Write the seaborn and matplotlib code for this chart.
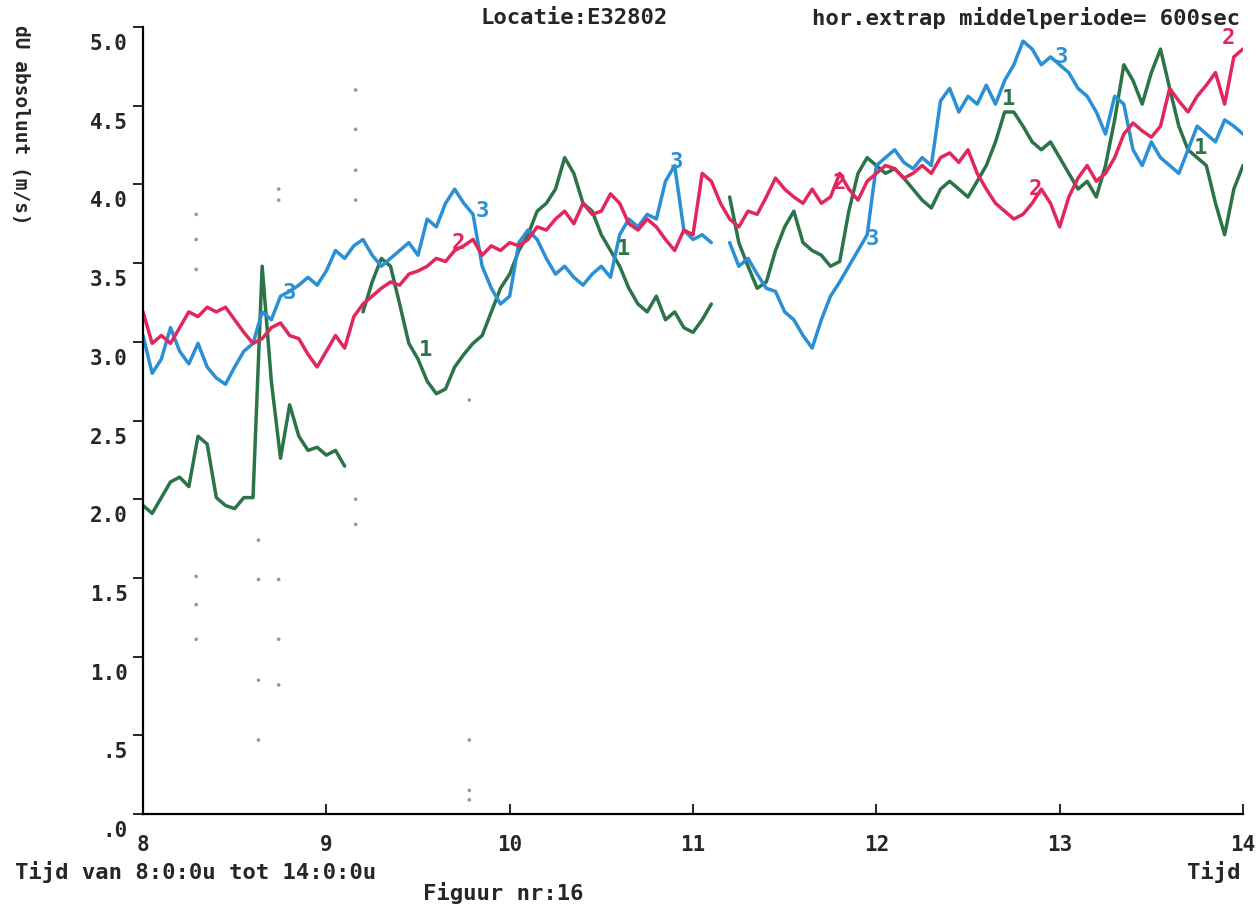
import numpy as np
import pandas as pd
import matplotlib
matplotlib.use("Agg")
import matplotlib.pyplot as plt
import seaborn as sns
from matplotlib.transforms import ScaledTranslation

# ---------------- data ----------------
TIMES = np.round(np.arange(8.0, 14.0001, 0.05), 2)

SERIE_1 = [1.96, 1.91, 2.01, 2.11, 2.14, 2.08, 2.40, 2.35, 2.01, 1.96,
           1.94, 2.01, 2.01, 3.48, 2.75, 2.26, 2.60, 2.40, 2.31, 2.33,
           2.28, 2.31, 2.21, np.nan, 3.19, 3.38, 3.53, 3.48, 3.24, 2.99,
           2.89, 2.75, 2.67, 2.70, 2.84, 2.92, 2.99, 3.04, 3.19, 3.34,
           3.43, 3.58, 3.68, 3.83, 3.88, 3.97, 4.17, 4.07, 3.88, 3.83,
           3.68, 3.58, 3.48, 3.34, 3.24, 3.19, 3.29, 3.14, 3.19, 3.09,
           3.06, 3.14, 3.24, np.nan, 3.92, 3.63, 3.48, 3.34, 3.38, 3.58,
           3.73, 3.83, 3.63, 3.58, 3.55, 3.48, 3.51, 3.83, 4.07, 4.17,
           4.12, 4.07, 4.10, 4.04, 3.97, 3.90, 3.85, 3.97, 4.02, 3.97,
           3.92, 4.02, 4.12, 4.27, 4.46, 4.46, 4.37, 4.27, 4.22, 4.27,
           4.17, 4.07, 3.97, 4.02, 3.92, 4.12, 4.41, 4.76, 4.66, 4.51,
           4.71, 4.86, 4.61, 4.37, 4.22, 4.17, 4.12, 3.88, 3.68, 3.97,
           4.12]

SERIE_2 = [3.19, 2.99, 3.04, 2.99, 3.09, 3.19, 3.16, 3.22, 3.19, 3.22,
           3.14, 3.06, 2.99, 3.02, 3.09, 3.12, 3.04, 3.02, 2.92, 2.84,
           2.94, 3.04, 2.96, 3.16, 3.24, 3.29, 3.34, 3.38, 3.36, 3.43,
           3.45, 3.48, 3.53, 3.51, 3.58, 3.61, 3.65, 3.55, 3.61, 3.58,
           3.63, 3.61, 3.65, 3.73, 3.71, 3.78, 3.83, 3.75, 3.88, 3.81,
           3.83, 3.94, 3.88, 3.75, 3.71, 3.78, 3.73, 3.65, 3.58, 3.71,
           3.68, 4.07, 4.02, 3.88, 3.78, 3.73, 3.83, 3.81, 3.92, 4.04,
           3.97, 3.92, 3.88, 3.97, 3.88, 3.92, 4.07, 3.97, 3.90, 4.02,
           4.07, 4.12, 4.10, 4.04, 4.07, 4.12, 4.07, 4.17, 4.20, 4.14,
           4.22, 4.07, 3.97, 3.88, 3.83, 3.78, 3.81, 3.88, 3.97, 3.88,
           3.73, 3.92, 4.04, 4.12, 4.02, 4.07, 4.17, 4.32, 4.39, 4.34,
           4.30, 4.37, 4.61, 4.53, 4.46, 4.56, 4.63, 4.71, 4.51, 4.81,
           4.86]

SERIE_3 = [3.04, 2.80, 2.89, 3.09, 2.94, 2.86, 2.99, 2.84, 2.77, 2.73,
           2.84, 2.94, 2.99, 3.19, 3.14, 3.29, 3.32, 3.36, 3.41, 3.36,
           3.45, 3.58, 3.53, 3.61, 3.65, 3.55, 3.48, 3.53, 3.58, 3.63,
           3.55, 3.78, 3.73, 3.88, 3.97, 3.88, 3.81, 3.48, 3.34, 3.24,
           3.29, 3.63, 3.71, 3.65, 3.53, 3.43, 3.48, 3.41, 3.36, 3.43,
           3.48, 3.41, 3.68, 3.78, 3.73, 3.81, 3.78, 4.02, 4.12, 3.71,
           3.65, 3.68, 3.63, np.nan, 3.63, 3.48, 3.53, 3.43, 3.34, 3.32,
           3.19, 3.14, 3.04, 2.96, 3.14, 3.29, 3.38, 3.48, 3.58, 3.68,
           4.12, 4.17, 4.22, 4.14, 4.10, 4.17, 4.12, 4.53, 4.61, 4.46,
           4.56, 4.51, 4.63, 4.51, 4.66, 4.76, 4.91, 4.86, 4.76, 4.81,
           4.76, 4.71, 4.61, 4.56, 4.46, 4.32, 4.56, 4.51, 4.22, 4.12,
           4.27, 4.17, 4.12, 4.07, 4.22, 4.37, 4.32, 4.27, 4.41, 4.37,
           4.32]

# scattered grey dots
DOT_T = [8.29, 8.29, 8.29, 8.29, 8.29, 8.29, 8.63, 8.63, 8.63, 8.63,
         8.74, 8.74, 8.74, 8.74, 8.74, 9.16, 9.16, 9.16, 9.16, 9.16, 9.16,
         9.78, 9.78, 9.78, 9.78]
DOT_V = [3.81, 3.65, 3.46, 1.51, 1.33, 1.11, 1.74, 1.49, 0.85, 0.47,
         3.97, 3.90, 1.49, 1.11, 0.82, 4.60, 4.35, 4.09, 3.90, 2.00, 1.84,
         0.47, 0.15, 0.09, 2.63]

# curve number labels
LAB_TXT = ["3", "3", "3", "3", "3", "2", "2", "2", "2", "1", "1", "1", "1"]
LAB_T = [8.80, 9.85, 10.91, 11.98, 13.01, 9.72, 11.80, 12.87, 13.92,
         9.54, 10.62, 12.72, 13.77]
LAB_V = [3.31, 3.83, 4.14, 3.65, 4.81, 3.63, 4.01, 3.97, 4.93,
         2.95, 3.59, 4.54, 4.23]

YTICKS = [0.0, 0.5, 1.0, 1.5, 2.0, 2.5, 3.0, 3.5, 4.0, 4.5, 5.0]
YTICKLABELS = [".0", ".5", "1.0", "1.5", "2.0", "2.5", "3.0", "3.5",
               "4.0", "4.5", "5.0"]
XTICKS = [8, 9, 10, 11, 12, 13, 14]
XTICKLABELS = ["8", "9", "10", "11", "12", "13", "14"]

COLORS = {"1": "#2b7448", "2": "#e2275c", "3": "#2a8fd4"}

# ---------------- build long table ----------------
rows = []
for name, vals in (("1", SERIE_1), ("2", SERIE_2), ("3", SERIE_3)):
    seg = 0
    for t, v in zip(TIMES, vals):
        if np.isnan(v):
            seg += 1
            continue
        rows.append({"t": t, "v": v, "serie": name, "seg": f"{name}_{seg}"})
df = pd.DataFrame(rows)
dots = pd.DataFrame({"t": DOT_T, "v": DOT_V})

# ---------------- figure ----------------
sns.set_style("white")
plt.rcParams["font.family"] = ["DejaVu Sans Mono", "DejaVu Sans"]
plt.rcParams["font.weight"] = "bold"

fig = plt.figure(figsize=(12.58, 9.10), dpi=100)
ax = fig.add_axes([143 / 1258, 1 - 814 / 910, 1100 / 1258, 787 / 910])

sns.scatterplot(data=dots, x="t", y="v", color="#9a9a9a", s=7,
                edgecolor="none", ax=ax, legend=False)
for name in ["1", "3", "2"]:
    sub = df[df["serie"] == name]
    sns.lineplot(data=sub, x="t", y="v", units="seg", estimator=None,
                 color=COLORS[name], linewidth=2.5, sort=False,
                 ax=ax, legend=False)

for txt, t, v in zip(LAB_TXT, LAB_T, LAB_V):
    ax.text(t, v, txt, color=COLORS[txt], fontsize=16, fontweight="bold",
            ha="center", va="center")

ax.set_xlim(8, 14)
ax.set_ylim(0, 5.0)
ax.set_xticks(XTICKS)
ax.set_xticklabels(XTICKLABELS)
ax.set_yticks(YTICKS)
ax.set_yticklabels(YTICKLABELS)
ax.set_xlabel("")
ax.set_ylabel("")

for s in ["top", "right"]:
    ax.spines[s].set_visible(False)
for s in ["left", "bottom"]:
    ax.spines[s].set_color("black")
    ax.spines[s].set_linewidth(1.6)

ax.tick_params(axis="y", direction="out", length=7, width=1.4, pad=4,
               labelsize=15, left=True)
ax.tick_params(axis="x", direction="in", length=7, width=1.4, pad=15,
               labelsize=15, bottom=True)
off = ScaledTranslation(0, -0.15, fig.dpi_scale_trans)
for lab in ax.get_yticklabels():
    lab.set_transform(lab.get_transform() + off)
    lab.set_fontweight("bold")
for lab in ax.get_xticklabels():
    lab.set_fontweight("bold")

# texts around the plot
fig.text(480 / 1258, 1 - 18 / 910, "Locatie:E32802", fontsize=16,
         fontweight="bold", ha="left", va="center")
fig.text(1240 / 1258, 1 - 18 / 910, "hor.extrap middelperiode= 600sec",
         fontsize=16, fontweight="bold", ha="right", va="center")
fig.text(20 / 1258, 1 - 25 / 910, "dU absoluut (m/s)", fontsize=14,
         fontweight="bold", rotation=270, ha="center", va="top")
fig.text(15 / 1258, 1 - 872 / 910, "Tijd van 8:0:0u tot 14:0:0u",
         fontsize=16, fontweight="bold", ha="left", va="center")
fig.text(1240 / 1258, 1 - 872 / 910, "Tijd", fontsize=16,
         fontweight="bold", ha="right", va="center")
fig.text(503 / 1258, 1 - 893 / 910, "Figuur nr:16", fontsize=16,
         fontweight="bold", ha="center", va="center")

fig.savefig("out.png", dpi=100)
